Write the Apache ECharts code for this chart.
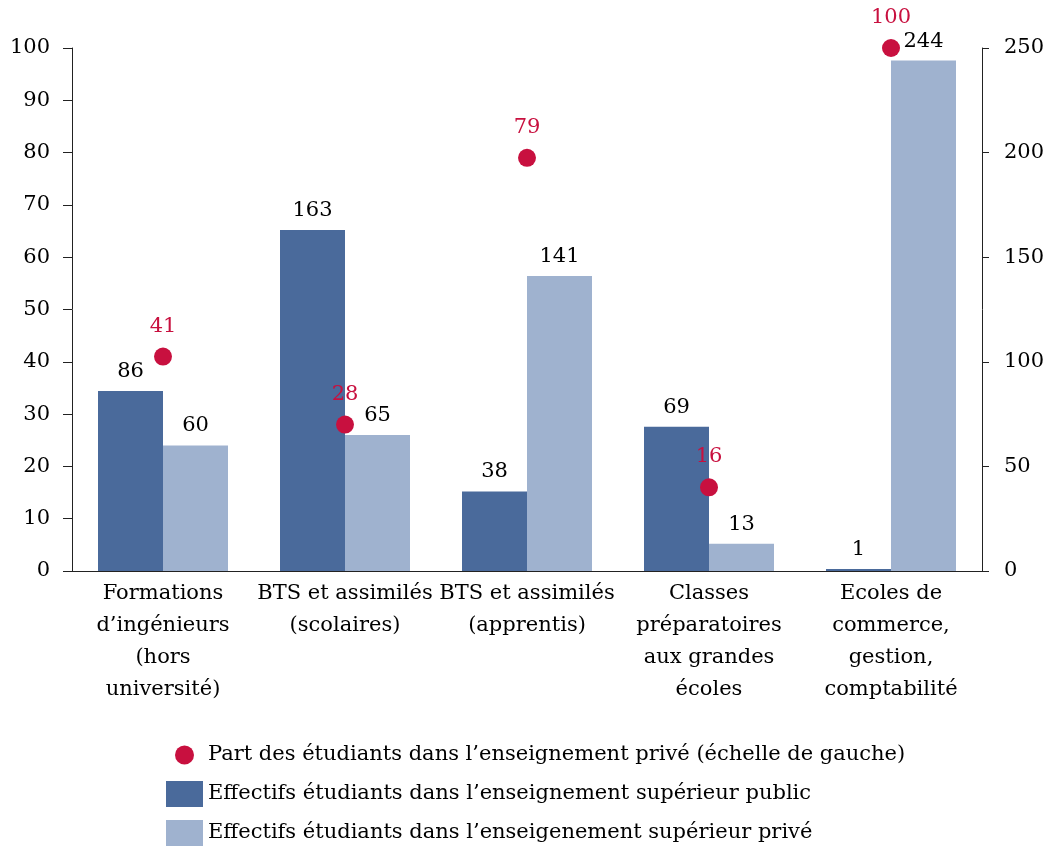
<!DOCTYPE html>
<html>
<head>
<meta charset="utf-8">
<script src="https://cdn.jsdelivr.net/npm/echarts@6/dist/echarts.min.js"></script>
<style>
    html, body { margin: 0; padding: 0; background: #fff; }
    #chart { width: 1051px; height: 853px; }
</style>
</head>
<body>
<div id="chart"></div>
<script>
    // données
    var categories = [
        'Formations\nd\u2019ingénieurs\n(hors\nuniversité)',
        'BTS et assimilés\n(scolaires)',
        'BTS et assimilés\n(apprentis)',
        'Classes\npréparatoires\naux grandes\nécoles',
        'Ecoles de\ncommerce,\ngestion,\ncomptabilité'
    ];
    var partPrive = [41, 28, 79, 16, 100];       // échelle de gauche (%)
    var effectifsPublic = [86, 163, 38, 69, 1];  // échelle de droite
    var effectifsPrive = [60, 65, 141, 13, 244];

    var fontFamily = '"DejaVu Serif", serif';
    var fs = 21;
    var dark = '#4a6a9b', light = '#9fb2cf', red = '#c8103f';

    // petit rond pour la légende (plus petit que le carré)
    function dotIcon() {
        var c = document.createElement('canvas');
        c.width = 37; c.height = 26;
        var ctx = c.getContext('2d');
        ctx.fillStyle = red;
        ctx.beginPath();
        ctx.arc(18.5, 13, 9.5, 0, Math.PI * 2);
        ctx.fill();
        return 'image://' + c.toDataURL();
    }

    var chart = echarts.init(document.getElementById('chart'));
    var option = {
        animation: false,
        textStyle: { fontFamily: fontFamily, fontSize: fs, color: '#000' },
        grid: { left: 72, right: 69, top: 48, bottom: 282 },
        legend: {
            orient: 'vertical',
            left: 166,
            top: 742,
            height: 200,
            padding: 0,
            itemWidth: 37,
            itemHeight: 26,
            itemGap: 13,
            textStyle: { fontFamily: fontFamily, fontSize: fs, color: '#000' },
            data: [
                { name: 'Part des étudiants dans l\u2019enseignement privé (échelle de gauche)', icon: dotIcon() },
                { name: 'Effectifs étudiants dans l\u2019enseignement supérieur public', icon: 'rect' },
                { name: 'Effectifs étudiants dans l\u2019enseigenement supérieur privé', icon: 'rect' }
            ]
        },
        xAxis: {
            type: 'category',
            data: categories,
            axisLine: { lineStyle: { color: '#222', width: 1 } },
            axisTick: { show: false },
            axisLabel: {
                interval: 0,
                margin: 7,
                lineHeight: 32,
                fontSize: fs,
                color: '#000',
                fontFamily: fontFamily
            }
        },
        yAxis: [
            {
                type: 'value',
                min: 0, max: 100, interval: 10,
                axisLine: { show: true, lineStyle: { color: '#222' } },
                axisTick: { show: true, length: 9, lineStyle: { color: '#222' } },
                axisLabel: { margin: 22, fontSize: fs, color: '#000', fontFamily: fontFamily },
                splitLine: { show: false }
            },
            {
                type: 'value',
                min: 0, max: 250, interval: 50,
                axisLine: { show: true, lineStyle: { color: '#222' } },
                axisTick: { show: true, length: 7, lineStyle: { color: '#222' } },
                axisLabel: { margin: 22, fontSize: fs, color: '#000', fontFamily: fontFamily },
                splitLine: { show: false }
            }
        ],
        series: [
            {
                name: 'Effectifs étudiants dans l\u2019enseignement supérieur public',
                type: 'bar',
                yAxisIndex: 1,
                data: effectifsPublic,
                barWidth: 65,
                barGap: '0%',
                itemStyle: { color: dark },
                label: { show: true, position: 'top', distance: 9, color: '#000', fontSize: fs, fontFamily: fontFamily }
            },
            {
                name: 'Effectifs étudiants dans l\u2019enseigenement supérieur privé',
                type: 'bar',
                yAxisIndex: 1,
                data: effectifsPrive,
                barWidth: 65,
                barGap: '0%',
                itemStyle: { color: light },
                label: { show: true, position: 'top', distance: 9, color: '#000', fontSize: fs, fontFamily: fontFamily }
            },
            {
                name: 'Part des étudiants dans l\u2019enseignement privé (échelle de gauche)',
                type: 'scatter',
                yAxisIndex: 0,
                data: partPrive,
                symbol: 'circle',
                symbolSize: 18,
                itemStyle: { color: red, opacity: 1 },
                z: 5,
                label: { show: true, position: 'top', distance: 11, color: red, fontSize: fs, fontFamily: fontFamily }
            }
        ]
    };
    chart.setOption(option);
</script>
</body>
</html>
